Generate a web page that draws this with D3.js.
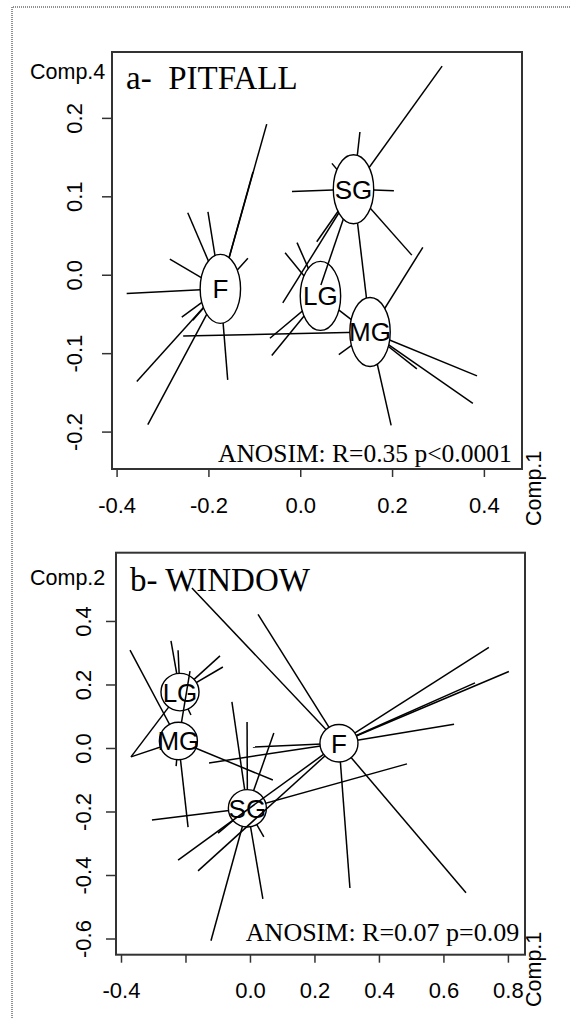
<!DOCTYPE html>
<html>
<head>
<meta charset="utf-8">
<script src="https://cdn.jsdelivr.net/npm/d3@7"></script>
<style>
  body { margin: 0; background: #fff; }
  svg { display: block; }
</style>
</head>
<body>
<svg id="chart" width="571" height="1018"></svg>
<script>
// group names, same order as the centre arrays
const groups = ["F", "LG", "MG", "SG"];

// a- PITFALL : Comp.1 (x) vs Comp.4 (y)
const pitfallCenters = [[-0.174, -0.018], [0.044, -0.027], [0.152, -0.073], [0.116, 0.109]];
const pitfallF = [[-0.073, 0.192], [-0.103, 0.131], [-0.245, 0.079], [-0.201, 0.080], [-0.284, 0.020],
  [-0.378, -0.024], [-0.258, -0.054], [-0.234, -0.058], [-0.356, -0.136], [-0.332, -0.191],
  [-0.158, -0.134], [-0.114, 0.021]];
const pitfallLG = [[-0.033, 0.028], [-0.007, 0.041], [-0.066, -0.081], [-0.062, -0.103], [0.124, -0.063]];
const pitfallMG = [[-0.255, -0.078], [0.267, 0.035], [0.385, -0.129], [0.376, -0.164], [0.254, -0.120],
  [0.198, -0.192], [0.084, -0.102]];
const pitfallSG = [[-0.038, -0.036], [0.036, 0.042], [0.045, -0.013], [0.150, -0.058], [0.243, 0.025],
  [-0.018, 0.106], [0.204, 0.107], [0.130, 0.182], [0.309, 0.266], [0.102, 0.152], [0.069, 0.142]];
const pitfallXTicks = [-0.4, -0.2, 0.0, 0.2, 0.4];
const pitfallXLabels = ["-0.4", "-0.2", "0.0", "0.2", "0.4"];
const pitfallYTicks = [-0.2, -0.1, 0.0, 0.1, 0.2];
const pitfallYLabels = ["-0.2", "-0.1", "0.0", "0.1", "0.2"];

// b- WINDOW : Comp.1 (x) vs Comp.2 (y)
const windowCenters = [[0.276, 0.015], [-0.217, 0.176], [-0.222, 0.022], [-0.008, -0.190]];
const windowF = [[-0.180, 0.504], [0.025, 0.421], [0.741, 0.317], [0.803, 0.241], [0.698, 0.205],
  [0.633, 0.075], [0.310, -0.441], [0.670, -0.456], [0.009, 0.003], [-0.127, -0.047],
  [-0.223, -0.353], [-0.161, -0.387]];
const windowLG = [[-0.245, 0.337], [-0.223, 0.308], [-0.093, 0.290], [-0.084, 0.255], [-0.369, -0.028],
  [-0.183, 0.104]];
const windowMG = [[-0.369, -0.028], [-0.372, 0.308], [0.071, -0.101], [-0.192, -0.249], [-0.186, 0.242],
  [-0.229, -0.057]];
const windowSG = [[-0.056, 0.145], [-0.009, 0.082], [0.074, 0.047], [-0.304, -0.227], [-0.121, -0.607],
  [0.040, -0.475], [0.043, -0.280], [-0.099, -0.268], [0.487, -0.050]];
const windowXTicks = [-0.4, -0.2, 0.0, 0.2, 0.4, 0.6, 0.8];
const windowXLabels = ["-0.4", "", "0.0", "0.2", "0.4", "0.6", "0.8"];
const windowYTicks = [-0.6, -0.4, -0.2, 0.0, 0.2, 0.4];
const windowYLabels = ["-0.6", "-0.4", "-0.2", "0.0", "0.2", "0.4"];

const SANS = "'Liberation Sans', Arial, sans-serif";
const SERIF = "'Liberation Serif', 'Times New Roman', serif";

const svg = d3.select("#chart");

// dotted frame of the figure
svg.append("path")
  .attr("d", "M12,1018 L12,7 L571,7")
  .attr("fill", "none")
  .attr("stroke", "#222")
  .attr("stroke-width", 1)
  .attr("stroke-dasharray", "1,1");

function drawPanel(p) {
  const g = svg.append("g");
  const x = d3.scaleLinear().domain(p.xDomain).range([p.box.left, p.box.right]);
  const y = d3.scaleLinear().domain(p.yDomain).range([p.box.bottom, p.box.top]);

  // stars: each group draws its spokes, then its oval and label
  p.order.forEach(name => {
    const i = groups.indexOf(name);
    const c = p.centers[i];
    g.append("g").selectAll("line").data(p.points[i]).enter().append("line")
      .attr("x1", x(c[0])).attr("y1", y(c[1]))
      .attr("x2", d => x(d[0])).attr("y2", d => y(d[1]))
      .attr("stroke", "#000").attr("stroke-width", 1.5);
    g.append("ellipse")
      .attr("cx", x(c[0])).attr("cy", y(c[1]))
      .attr("rx", x(c[0] + p.radius) - x(c[0]))
      .attr("ry", y(c[1]) - y(c[1] + p.radius))
      .attr("fill", "#fff").attr("stroke", "#000").attr("stroke-width", 1.4);
    g.append("text")
      .attr("x", x(c[0])).attr("y", y(c[1]) + 9.5)
      .attr("text-anchor", "middle")
      .attr("font-family", SANS).attr("font-size", 26)
      .text(name);
  });

  // x axis
  const xa = g.append("g")
    .attr("transform", `translate(0,${p.box.bottom})`)
    .call(d3.axisBottom(x).tickValues(p.xTicks).tickSize(8).tickFormat((d, i) => p.xLabels[i]));
  xa.select(".domain").remove();
  xa.attr("font-size", null).attr("font-family", null).attr("color", "#333");
  xa.selectAll("line").attr("stroke-width", 1.5);
  xa.selectAll("text")
    .attr("y", 43.5).attr("dy", null)
    .attr("fill", "#000")
    .attr("font-family", SANS).attr("font-size", 22);

  // y axis, labels turned like R does
  const ya = g.append("g")
    .attr("transform", `translate(${p.box.left},0)`)
    .call(d3.axisLeft(y).tickValues(p.yTicks).tickSize(p.yTick).tickFormat((d, i) => p.yLabels[i]));
  ya.select(".domain").remove();
  ya.attr("font-size", null).attr("font-family", null).attr("color", "#333");
  ya.selectAll("line").attr("stroke-width", 1.5);
  ya.selectAll("text")
    .attr("x", null).attr("dy", null)
    .attr("transform", `translate(${-p.yLabelOffset},0) rotate(-90)`)
    .attr("text-anchor", "middle")
    .attr("fill", "#000")
    .attr("font-family", SANS).attr("font-size", 22);

  // box
  g.append("rect")
    .attr("x", p.box.left).attr("y", p.box.top)
    .attr("width", p.box.right - p.box.left)
    .attr("height", p.box.bottom - p.box.top)
    .attr("fill", "none").attr("stroke", "#333").attr("stroke-width", 2);

  // titles and axis names
  g.append("text")
    .attr("x", p.box.left + 14).attr("y", p.titleY)
    .attr("font-family", SERIF).attr("font-size", 33)
    .text(p.title);
  g.append("text")
    .attr("x", p.statX).attr("y", p.statY)
    .attr("text-anchor", "end")
    .attr("font-family", SERIF).attr("font-size", p.statSize)
    .text(p.stat);
  g.append("text")
    .attr("x", 30).attr("y", p.yNameY)
    .attr("font-family", SANS).attr("font-size", 21.5)
    .text(p.yName);
  g.append("text")
    .attr("transform", `translate(541,${p.xNameY}) rotate(-90)`)
    .attr("font-family", SANS).attr("font-size", 21.5)
    .text("Comp.1");
}

drawPanel({
  box: { left: 112, top: 52, right: 522, bottom: 469 },
  xDomain: [-0.410, 0.483],
  yDomain: [-0.2477, 0.284],
  centers: pitfallCenters,
  points: [pitfallF, pitfallLG, pitfallMG, pitfallSG],
  order: ["LG", "SG", "MG", "F"],
  radius: 0.044,
  xTicks: pitfallXTicks, xLabels: pitfallXLabels,
  yTicks: pitfallYTicks, yLabels: pitfallYLabels,
  yTick: 10, yLabelOffset: 30,
  title: "a-\u00a0 PITFALL", titleY: 89,
  stat: "ANOSIM: R=0.35 p<0.0001", statX: 511.7, statY: 461.7, statSize: 25.5,
  yName: "Comp.4", yNameY: 79, xNameY: 526
});

drawPanel({
  box: { left: 116, top: 552.7, right: 525, bottom: 954.7 },
  xDomain: [-0.4155, 0.853],
  yDomain: [-0.651, 0.615],
  centers: windowCenters,
  points: [windowF, windowLG, windowMG, windowSG],
  order: ["SG", "LG", "MG", "F"],
  radius: 0.059,
  xTicks: windowXTicks, xLabels: windowXLabels,
  yTicks: windowYTicks, yLabels: windowYLabels,
  yTick: 10, yLabelOffset: 25.3,
  title: "b- WINDOW", titleY: 591,
  stat: "ANOSIM: R=0.07 p=0.09", statX: 519.3, statY: 941.3, statSize: 26,
  yName: "Comp.2", yNameY: 585, xNameY: 1007
});
</script>
</body>
</html>
